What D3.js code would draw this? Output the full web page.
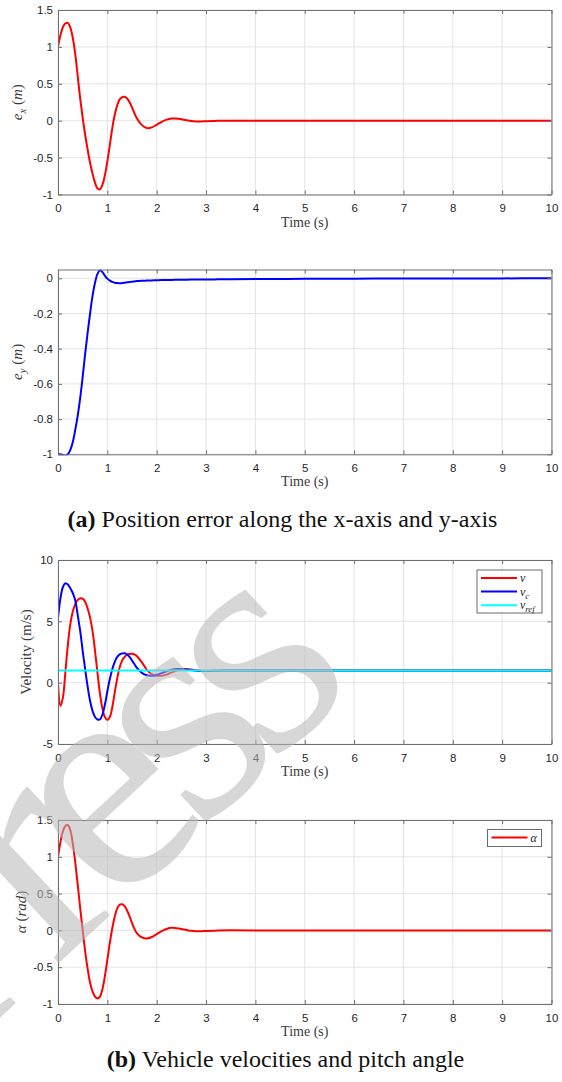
<!DOCTYPE html>
<html>
<head>
<meta charset="utf-8">
<script src="https://cdn.jsdelivr.net/npm/d3@7"></script>
<style>
  body { margin: 0; background: #fff; }
  svg { display: block; }
</style>
</head>
<body>
<svg width="562" height="1082"></svg>
<script>
const svg = d3.select('svg');
const width = +svg.attr('width');
const height = +svg.attr('height');

/////////////////////////////////////////////////////////////
//////////// data //////////////////////
/////////////////////////////////////////////////////////////
const timeS = [0, 0.05, 0.1, 0.15, 0.2, 0.25, 0.3, 0.35, 0.4, 0.45, 0.5, 0.55, 0.6, 0.65, 0.7, 0.75, 0.8,
  0.85, 0.9, 0.95, 1.0, 1.05, 1.1, 1.15, 1.2, 1.25, 1.3, 1.35, 1.4, 1.45, 1.5, 1.55, 1.6,
  1.7, 1.8, 1.9, 2.0, 2.1, 2.2, 2.3, 2.4, 2.5, 2.6, 2.7, 2.8, 2.9, 3.0,
  3.25, 3.5, 4, 5, 6, 7, 8, 9, 10];

// e_x (m)
const errX = [1.00, 1.16, 1.27, 1.32, 1.325, 1.26, 1.12, 0.90, 0.60, 0.30, 0.04, -0.19, -0.39, -0.57, -0.72, -0.84, -0.92,
  -0.93, -0.87, -0.74, -0.55, -0.33, -0.10, 0.08, 0.21, 0.29, 0.32, 0.325, 0.30, 0.25, 0.18, 0.10, 0.03,
  -0.06, -0.10, -0.09, -0.055, -0.015, 0.015, 0.03, 0.03, 0.02, 0.007, -0.004, -0.01, -0.01, -0.007,
  -0.002, 0.001, 0, 0, 0, 0, 0, 0, 0];

// e_y (m)
const errY = [-1.0, -1.0, -1.004, -1.008, -1.0, -0.975, -0.93, -0.86, -0.78, -0.68, -0.56, -0.43, -0.31, -0.20, -0.10, -0.025, 0.025,
  0.045, 0.035, 0.015, -0.002, -0.013, -0.02, -0.025, -0.027, -0.028, -0.027, -0.025, -0.023, -0.021, -0.019, -0.018, -0.016,
  -0.014, -0.013, -0.012, -0.011, -0.010, -0.0095, -0.009, -0.0085, -0.008, -0.0078, -0.0075, -0.007, -0.0068, -0.0065,
  -0.006, -0.0055, -0.0045, -0.003, -0.002, -0.0015, -0.001, -0.0005, 0];

// v (m/s)
const velV = [0, -1.9, -1.2, 0.9, 3.1, 4.8, 5.8, 6.4, 6.75, 6.88, 6.85, 6.6, 6.05, 5.3, 4.2, 2.6, 0.8,
  -0.9, -2.1, -2.8, -3.04, -2.8, -2.0, -0.8, 0.35, 1.25, 1.8, 2.1, 2.28, 2.34, 2.35, 2.3, 2.15,
  1.65, 1.05, 0.7, 0.58, 0.56, 0.66, 0.84, 0.99, 1.08, 1.1, 1.07, 1.02, 0.98, 0.96,
  0.98, 1.0, 1, 1, 1, 1, 1, 1, 1];

// v_c (m/s)
const velVc = [5.25, 6.9, 7.8, 8.1, 8.0, 7.7, 7.3, 6.7, 5.5, 4.2, 2.6, 1.1, -0.3, -1.5, -2.3, -2.8, -3.0,
  -3.0, -2.6, -1.8, -0.7, 0.3, 1.1, 1.7, 2.1, 2.3, 2.38, 2.39, 2.3, 2.1, 1.8, 1.5, 1.2,
  0.8, 0.6, 0.56, 0.63, 0.78, 0.93, 1.05, 1.11, 1.11, 1.07, 1.02, 0.98, 0.96, 0.96,
  0.98, 1.0, 1, 1, 1, 1, 1, 1, 1];

// v_ref (m/s)
const refTime = [0, 10];
const velRef = [1, 1];

// alpha (rad)
const alphaRad = [1.0, 1.2, 1.35, 1.42, 1.43, 1.36, 1.18, 0.92, 0.62, 0.30, 0.0, -0.28, -0.52, -0.71, -0.83, -0.9, -0.925,
  -0.9, -0.8, -0.62, -0.4, -0.17, 0.03, 0.19, 0.3, 0.35, 0.355, 0.33, 0.27, 0.19, 0.1, 0.02, -0.04,
  -0.095, -0.11, -0.09, -0.05, -0.01, 0.02, 0.035, 0.03, 0.02, 0.006, -0.006, -0.01, -0.01, -0.007,
  -0.002, 0.001, 0, 0, 0, 0, 0, 0, 0];

const xTicks = [0, 1, 2, 3, 4, 5, 6, 7, 8, 9, 10];
const yTicksEx = [-1, -0.5, 0, 0.5, 1, 1.5];
const yTicksEy = [-1, -0.8, -0.6, -0.4, -0.2, 0];
const yTicksVel = [-5, 0, 5, 10];
const yTicksAlpha = [-1, -0.5, 0, 0.5, 1, 1.5];

const RED = '#ff0000', BLUE = '#0000ff', CYAN = '#00ffff';
const plotLeft = 58, plotRight = 551.5;
const frameColor = '#6f6f6f';
const gridColor = '#e4e4e4';
const serif = "'Liberation Serif', 'Times New Roman', serif";
const sans = "'Liberation Sans', Arial, sans-serif";

const zip = (ts, vs) => ts.map((t, i) => ({t: t, v: vs[i]}));

// writes text made of parts: {t, it, sub}
const mathText = (sel, parts, size) => {
  let shifted = false;
  parts.forEach(p => {
    const ts = sel.append('tspan').text(p.t)
      .attr('font-style', p.it ? 'italic' : 'normal');
    if (p.sub && !shifted) { ts.attr('dy', size * 0.25).attr('font-size', size * 0.72); shifted = true; }
    else if (p.sub) { ts.attr('font-size', size * 0.72); }
    else if (shifted) { ts.attr('dy', -size * 0.25); shifted = false; }
  });
};

///////////////////////////////////////////////////////////////
///////////// panel renderer //////////////////////////////////
///////////////////////////////////////////////////////////////
let clipId = 0;
const drawPanel = p => {
  const x = d3.scaleLinear().domain([0, 10]).range([plotLeft, plotRight]);
  const y = d3.scaleLinear().domain(p.yDomain).range([p.bottom, p.top]);
  const g = svg.append('g');

  g.append('rect').attr('x', plotLeft).attr('y', p.top)
    .attr('width', plotRight - plotLeft).attr('height', p.bottom - p.top).attr('fill', '#fff');

  // grid
  g.selectAll('.gx').data(xTicks).enter().append('line')
    .attr('x1', d => x(d)).attr('x2', d => x(d)).attr('y1', p.top).attr('y2', p.bottom)
    .attr('stroke', gridColor).attr('stroke-width', 1);
  g.selectAll('.gy').data(p.yTicks).enter().append('line')
    .attr('x1', plotLeft).attr('x2', plotRight).attr('y1', d => y(d)).attr('y2', d => y(d))
    .attr('stroke', gridColor).attr('stroke-width', 1);

  // curves
  const cid = 'clip' + (clipId++);
  g.append('clipPath').attr('id', cid).append('rect')
    .attr('x', plotLeft).attr('y', p.top - 1).attr('width', plotRight - plotLeft).attr('height', p.bottom - p.top + 2);
  const line = d3.line().x(d => x(d.t)).y(d => y(d.v)).curve(d3.curveCatmullRom.alpha(0.5));
  p.series.forEach(s => {
    g.append('path').datum(s.data).attr('d', line)
      .attr('fill', 'none').attr('stroke', s.color).attr('stroke-width', 2)
      .attr('clip-path', 'url(#' + cid + ')');
  });

  // axes (box with inward ticks)
  const fmt = d => String(d).replace('\u2212', '-');
  const ax = [
    g.append('g').attr('transform', `translate(0,${p.bottom})`)
      .call(d3.axisBottom(x).tickValues(xTicks).tickSize(-4).tickSizeOuter(0).tickPadding(9.5).tickFormat(fmt)),
    g.append('g').attr('transform', `translate(0,${p.top})`)
      .call(d3.axisTop(x).tickValues(xTicks).tickSize(-4).tickSizeOuter(0).tickFormat('')),
    g.append('g').attr('transform', `translate(${plotLeft},0)`)
      .call(d3.axisLeft(y).tickValues(p.yTicks).tickSize(-4).tickSizeOuter(0).tickPadding(5).tickFormat(fmt)),
    g.append('g').attr('transform', `translate(${plotRight},0)`)
      .call(d3.axisRight(y).tickValues(p.yTicks).tickSize(-4).tickSizeOuter(0).tickFormat(''))
  ];
  ax.forEach(a => {
    a.select('.domain').attr('stroke', frameColor).attr('stroke-width', 1);
    a.selectAll('.tick line').attr('stroke', frameColor).attr('stroke-width', 1);
    a.selectAll('.tick text').attr('fill', '#262626').attr('font-size', 11.5).attr('font-family', sans);
  });

  // labels
  g.append('text').attr('x', (plotLeft + plotRight) / 2).attr('y', p.bottom + 32)
    .attr('text-anchor', 'middle').attr('font-family', serif).attr('font-size', 14).attr('fill', '#3a3a3a')
    .text('Time (s)');
  const yl = g.append('text')
    .attr('transform', `translate(${p.yLabelX},${(p.top + p.bottom) / 2}) rotate(-90)`)
    .attr('text-anchor', 'middle').attr('font-family', serif).attr('font-size', 15).attr('fill', '#3a3a3a');
  mathText(yl, p.yLabel, 15);

  // legend
  if (p.legend) {
    const L = p.legend;
    g.append('rect').attr('x', L.x).attr('y', L.y).attr('width', L.w).attr('height', L.h)
      .attr('fill', '#fff').attr('stroke', '#6a6a6a').attr('stroke-width', 1);
    L.items.forEach((it, i) => {
      const cy = L.y + 8 + i * 13.6;
      g.append('line').attr('x1', L.x + 4).attr('x2', L.x + 40).attr('y1', cy).attr('y2', cy)
        .attr('stroke', it.color).attr('stroke-width', 2);
      const tx = g.append('text').attr('x', L.x + 43).attr('y', cy + 4)
        .attr('font-family', serif).attr('font-size', 12).attr('fill', '#262626');
      mathText(tx, it.label, 12);
    });
  }
};

drawPanel({
  top: 10, bottom: 194.5, yDomain: [-1, 1.5], yTicks: yTicksEx, yLabelX: 22,
  yLabel: [{t: 'e', it: true}, {t: 'x', it: true, sub: true}, {t: ' (', it: false}, {t: 'm', it: true}, {t: ')', it: false}],
  series: [{data: zip(timeS, errX), color: RED}]
});

drawPanel({
  top: 269.5, bottom: 454.3, yDomain: [-1, 0.05], yTicks: yTicksEy, yLabelX: 22,
  yLabel: [{t: 'e', it: true}, {t: 'y', it: true, sub: true}, {t: ' (', it: false}, {t: 'm', it: true}, {t: ')', it: false}],
  series: [{data: zip(timeS, errY), color: BLUE}]
});

drawPanel({
  top: 560, bottom: 744, yDomain: [-5, 10], yTicks: yTicksVel, yLabelX: 31,
  yLabel: [{t: 'Velocity (m/s)', it: false}],
  series: [
    {data: zip(timeS, velV), color: RED},
    {data: zip(timeS, velVc), color: BLUE},
    {data: zip(refTime, velRef), color: CYAN}
  ],
  legend: {x: 477, y: 570, w: 65, h: 43, items: [
    {color: RED, label: [{t: 'v', it: true}]},
    {color: BLUE, label: [{t: 'v', it: true}, {t: 'c', it: true, sub: true}]},
    {color: CYAN, label: [{t: 'v', it: true}, {t: 'ref', it: true, sub: true}]}
  ]}
});

drawPanel({
  top: 820, bottom: 1004, yDomain: [-1, 1.5], yTicks: yTicksAlpha, yLabelX: 26,
  yLabel: [{t: '\u03b1', it: true}, {t: ' (', it: false}, {t: 'rad', it: true}, {t: ')', it: false}],
  series: [{data: zip(timeS, alphaRad), color: RED}],
  legend: {x: 487.5, y: 829.5, w: 54, h: 17, items: [
    {color: RED, label: [{t: '\u03b1', it: true}]}
  ]}
});

// captions
const caption = (xPos, yPos, tag, rest) => {
  const t = svg.append('text').attr('x', xPos).attr('y', yPos).attr('text-anchor', 'middle')
    .attr('font-family', serif).attr('font-size', 24).attr('fill', '#111');
  t.append('tspan').attr('font-weight', 'bold').text(tag);
  t.append('tspan').text(rest);
};
caption(282.5, 527, '(a)', ' Position error along the x-axis and y-axis');
caption(285.5, 1067, '(b)', ' Vehicle velocities and pitch angle');

// watermark
svg.append('text')
  .attr('transform', 'translate(-57,1071) rotate(-43)')
  .attr('font-family', serif).attr('font-size', 320).attr('letter-spacing', -26)
  .attr('fill', '#b8b8b8').attr('opacity', 0.55)
  .text('Press');
</script>
</body>
</html>
